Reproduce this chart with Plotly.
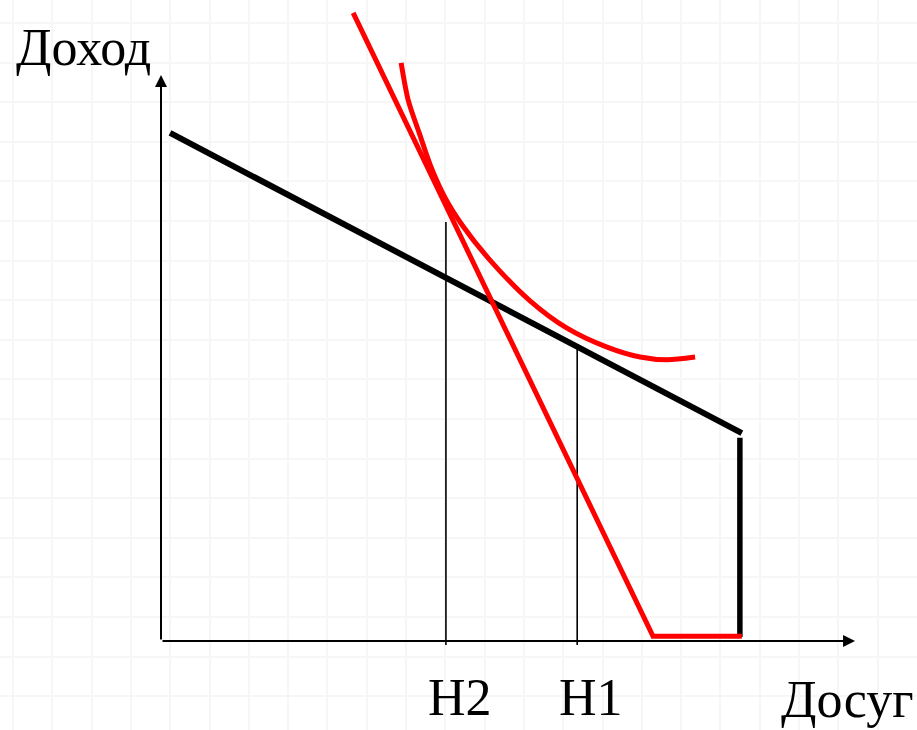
import plotly.graph_objects as go

# units: one background grid cell = 1, origin at the axes corner
budget_x = [0.23, 14.78]
budget_y = [12.83, 5.25]

wall_x = [14.73, 14.73]
wall_y = [5.13, 0.10]

new_budget_x = [4.89, 12.52, 14.78]
new_budget_y = [15.86, 0.12, 0.12]

indiff_x = [6.11, 6.29, 6.57, 6.87, 7.23, 7.68, 8.37, 9.39, 10.33, 11.35, 12.19, 12.88, 13.59]
indiff_y = [14.60, 13.66, 12.83, 11.97, 11.19, 10.48, 9.62, 8.59, 7.90, 7.42, 7.17, 7.10, 7.17]

h_labels = ["H2", "H1"]
h_x = [7.25, 10.59]
h_top = [10.58, 7.42]
h_bottom = -0.10

axis_x_end = 17.66
axis_y_end = 14.29

fig = go.Figure()

for hx, ht in zip(h_x, h_top):
    fig.add_trace(go.Scatter(x=[hx, hx], y=[h_bottom, ht], mode='lines',
                             line={'color': 'black', 'width': 1.6}, hoverinfo='skip'))

fig.add_trace(go.Scatter(x=budget_x, y=budget_y, mode='lines',
                         line={'color': 'black', 'width': 6}))
fig.add_trace(go.Scatter(x=wall_x, y=wall_y, mode='lines',
                         line={'color': 'black', 'width': 5.5}))
fig.add_trace(go.Scatter(x=new_budget_x, y=new_budget_y, mode='lines',
                         line={'color': '#ff0000', 'width': 5}))
fig.add_trace(go.Scatter(x=indiff_x, y=indiff_y, mode='lines',
                         line={'color': '#ff0000', 'width': 5, 'shape': 'spline', 'smoothing': 0.8}))

# axes with arrows
for ex, ey in [(axis_x_end, 0), (0, axis_y_end)]:
    fig.add_annotation(x=ex, y=ey, ax=0, ay=0, xref='x', yref='y', axref='x', ayref='y',
                       showarrow=True, arrowhead=2, arrowsize=1.2, arrowwidth=2,
                       arrowcolor='black', text='')

font = {'family': 'Liberation Serif, Times New Roman, serif', 'size': 52, 'color': 'black'}
fig.add_annotation(x=-1.98, y=15.0, text='Доход', showarrow=False, font=font,
                   xanchor='center', yanchor='middle')
fig.add_annotation(x=19.2, y=-1.48, text='Досуг', showarrow=False, font=font,
                   xanchor='right', yanchor='middle')
for lab, hx in zip(h_labels, h_x):
    fig.add_annotation(x=hx + 0.35, y=-1.42, text=lab, showarrow=False, font=font,
                       xanchor='center', yanchor='middle')

fig.update_xaxes(range=[-161 / 39.3, (917 - 161) / 39.3], tick0=0.234, dtick=1,
                 showgrid=True, gridcolor='#f6f6f6', gridwidth=2,
                 zeroline=False, showticklabels=False, showline=False, fixedrange=True)
fig.update_yaxes(range=[(641 - 730) / 39.6, 641 / 39.6], tick0=0.606, dtick=1,
                 showgrid=True, gridcolor='#f6f6f6', gridwidth=2,
                 zeroline=False, showticklabels=False, showline=False, fixedrange=True)

fig.update_layout(width=917, height=730, margin={'t': 0, 'b': 0, 'l': 0, 'r': 0},
                  plot_bgcolor='white', paper_bgcolor='white', showlegend=False)

fig.write_html("out.html", config={'displayModeBar': False},
               post_script="document.body.style.margin='0';document.body.style.overflow='hidden';")
